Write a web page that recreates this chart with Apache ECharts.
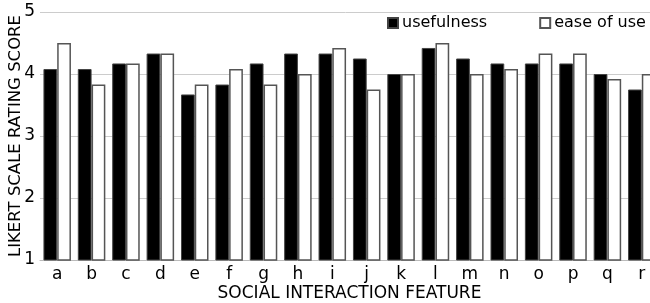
<!DOCTYPE html>
<html>
<head>
    <meta charset="utf-8">
    <script src="https://cdn.jsdelivr.net/npm/echarts@6/dist/echarts.min.js"></script>
    <style>
        html, body { margin: 0; padding: 0; background: #fff; }
        #main { width: 650px; height: 303px; }
    </style>
</head>
<body>
<div id="main"></div>
<script type="text/javascript">
    // features a..r
    var features = ['a','b','c','d','e','f','g','h','i','j','k','l','m','n','o','p','q','r'];
    var usefulness = [4.08,4.08,4.17,4.33,3.67,3.83,4.17,4.33,4.33,4.25,4.00,4.42,4.25,4.17,4.17,4.17,4.00,3.75];
    var easeOfUse  = [4.50,3.83,4.17,4.33,3.83,4.08,3.83,4.00,4.42,3.75,4.00,4.50,4.00,4.08,4.33,4.33,3.92,4.00];
    var yTicks = [1, 2, 3, 4, 5];

    var font = 'DejaVu Sans';
    var myChart = echarts.init(document.getElementById('main'), null, {renderer: 'canvas'});

    var option = {
        animation: false,
        textStyle: {fontFamily: font, color: '#000'},
        legend: {
            left: 382,
            top: 10,
            width: 300,
            itemWidth: 10,
            itemHeight: 10,
            itemGap: 52,
            icon: 'rect',
            textStyle: {fontFamily: font, fontSize: 16, color: '#000', padding: [0, 0, 0, -1]},
            data: ['usefulness', 'ease of use']
        },
        grid: {left: 40, right: -9, top: 12, bottom: 43, containLabel: false, outerBoundsMode: 'none'},
        xAxis: {
            type: 'category',
            data: features,
            name: 'SOCIAL INTERACTION FEATURE',
            nameLocation: 'middle',
            nameGap: 25,
            nameMoveOverlap: false,
            nameTextStyle: {fontFamily: font, fontSize: 17, color: '#000', verticalAlign: 'top'},
            axisLine: {show: true, lineStyle: {color: '#bbb', width: 1}},
            axisTick: {show: false},
            axisLabel: {fontFamily: font, fontSize: 17, color: '#000', margin: 6}
        },
        yAxis: {
            type: 'value',
            min: yTicks[0],
            max: yTicks[yTicks.length - 1],
            interval: 1,
            name: 'LIKERT SCALE RATING SCORE',
            nameLocation: 'middle',
            nameRotate: 90,
            nameGap: 16,
            nameMoveOverlap: false,
            nameTextStyle: {fontFamily: font, fontSize: 16.5, color: '#000'},
            axisLine: {show: false},
            axisTick: {show: false},
            axisLabel: {fontFamily: font, fontSize: 17, color: '#000', margin: 5},
            splitLine: {show: true, lineStyle: {color: '#ccc', width: 1}}
        },
        series: [
            {
                name: 'usefulness',
                type: 'bar',
                data: usefulness,
                barGap: '0%',
                barCategoryGap: '20%',
                itemStyle: {color: '#000', borderColor: '#444', borderWidth: 1}
            },
            {
                name: 'ease of use',
                type: 'bar',
                data: easeOfUse,
                itemStyle: {color: '#fff', borderColor: '#555', borderWidth: 1.5}
            }
        ]
    };
    myChart.setOption(option);
</script>
</body>
</html>
